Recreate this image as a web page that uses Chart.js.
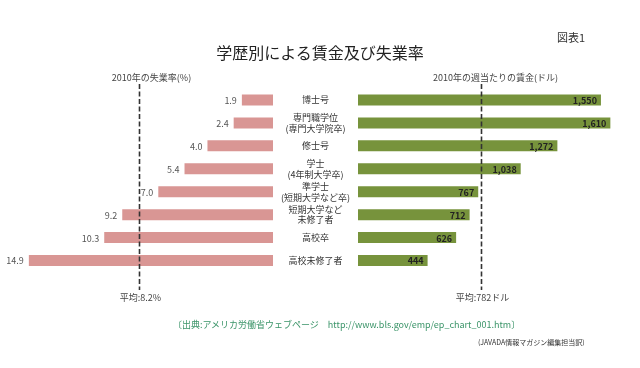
<!DOCTYPE html>
<html>
<head>
<meta charset="utf-8">
<script src="https://cdn.jsdelivr.net/npm/chart.js@4/dist/chart.umd.min.js"></script>
<style>
    body { margin: 0; background: #fff; }
    #wrap { position: relative; width: 640px; height: 368px; overflow: hidden; font-family: "Noto Sans CJK JP", sans-serif; }
    #wrap canvas { position: absolute; left: 0; top: 0; }
    .txt { position: absolute; white-space: nowrap; line-height: 1; }
    #title { left: 0; width: 640px; top: 44px; text-align: center; font-size: 16px; color: #222; }
    #fig { left: 557px; top: 32px; font-size: 11px; color: #333; }
    #src { left: 173px; top: 320px; font-size: 9px; color: #3a9468; }
    #trans { left: 478px; top: 339px; font-size: 7px; color: #333; }
</style>
</head>
<body>
<div id="wrap">
    <canvas id="leftChart" width="640" height="368"></canvas>
    <canvas id="rightChart" width="640" height="368"></canvas>
    <div class="txt" id="title">学歴別による賃金及び失業率</div>
    <div class="txt" id="fig">図表1</div>
    <div class="txt" id="src">〔出典:アメリカ労働省ウェブページ　http://www.bls.gov/emp/ep_chart_001.htm〕</div>
    <div class="txt" id="trans">(JAVADA情報マガジン編集担当訳)</div>
</div>
<script>
const categories = [
    ['博士号'],
    ['専門職学位', '(専門大学院卒)'],
    ['修士号'],
    ['学士', '(4年制大学卒)'],
    ['準学士', '(短期大学など卒)'],
    ['短期大学など', '未修了者'],
    ['高校卒'],
    ['高校未修了者']
];
const unemploymentRate = [1.9, 2.4, 4.0, 5.4, 7.0, 9.2, 10.3, 14.9];
const weeklyWage = [1550, 1610, 1272, 1038, 767, 712, 626, 444];
const avgRate = 8.2;
const avgWage = 782;
const rateTitle = '2010年の失業率(%)';
const wageTitle = '2010年の週当たりの賃金(ドル)';
const rateAvgLabel = '平均:8.2%';
const wageAvgLabel = '平均:782ドル';

const FONT = '"Noto Sans CJK JP", sans-serif';
Chart.defaults.font.family = FONT;
Chart.defaults.animation = false;

// value labels next to each bar + dashed average line with captions
function makeOverlay(opts) {
    return {
        id: 'overlay',
        afterDatasetsDraw(chart) {
            const ctx = chart.ctx;
            const meta = chart.getDatasetMeta(0);
            ctx.save();
            ctx.textBaseline = 'middle';
            ctx.textAlign = 'right';
            ctx.font = opts.valueFont;
            ctx.fillStyle = opts.valueColor;
            meta.data.forEach((bar, i) => {
                const v = chart.data.datasets[0].data[i];
                ctx.fillText(opts.format(v), bar.x + opts.valueOffset, bar.y + 0.5);
            });
            const x = Math.round(chart.scales.x.getPixelForValue(opts.avg)) + 0.5;
            ctx.strokeStyle = '#333';
            ctx.lineWidth = 1.6;
            ctx.setLineDash([5, 2.5]);
            ctx.beginPath();
            ctx.moveTo(x, 84);
            ctx.lineTo(x, 290);
            ctx.stroke();
            ctx.setLineDash([]);
            ctx.fillStyle = '#444';
            ctx.textAlign = 'center';
            ctx.font = '9px ' + FONT;
            ctx.fillText(opts.title, x + opts.titleShift, 78);
            ctx.fillText(opts.avgLabel, x + 1, 298);
            ctx.restore();
        }
    };
}

new Chart(document.getElementById('leftChart'), {
    type: 'bar',
    data: {
        labels: categories,
        datasets: [{
            data: unemploymentRate,
            backgroundColor: '#d99694',
            categoryPercentage: 1,
            barPercentage: 0.48
        }]
    },
    options: {
        indexAxis: 'y',
        responsive: false,
        devicePixelRatio: 1,
        layout: { padding: { left: 1, right: 367, top: 88.5, bottom: 96 } },
        plugins: { legend: { display: false }, tooltip: { enabled: false } },
        scales: {
            x: { display: false, reverse: true, min: 0, max: 16.6 },
            y: { display: false }
        }
    },
    plugins: [makeOverlay({
        avg: avgRate,
        title: rateTitle,
        titleShift: 12,
        avgLabel: rateAvgLabel,
        valueFont: '9px ' + FONT,
        valueColor: '#555',
        valueOffset: -5,
        format: v => v.toFixed(1)
    })]
});

new Chart(document.getElementById('rightChart'), {
    type: 'bar',
    data: {
        labels: categories,
        datasets: [{
            data: weeklyWage,
            backgroundColor: '#77933c',
            categoryPercentage: 1,
            barPercentage: 0.48
        }]
    },
    options: {
        indexAxis: 'y',
        responsive: false,
        devicePixelRatio: 1,
        layout: { padding: { left: 274, right: 3, top: 88.5, bottom: 96 } },
        plugins: { legend: { display: false }, tooltip: { enabled: false } },
        scales: {
            x: { display: false, min: 0, max: 1780 },
            y: {
                afterFit(scale) { scale.width = 84; },
                grid: { display: false },
                border: { display: false },
                ticks: {
                    autoSkip: false,
                    crossAlign: 'center',
                    padding: 0,
                    color: '#333',
                    font: { size: 9, lineHeight: 1.2 }
                }
            }
        }
    },
    plugins: [makeOverlay({
        avg: avgWage,
        title: wageTitle,
        titleShift: 14,
        avgLabel: wageAvgLabel,
        valueFont: 'bold 9px ' + FONT,
        valueColor: '#222',
        valueOffset: -4,
        format: v => v.toLocaleString('en-US')
    })]
});
</script>
</body>
</html>
